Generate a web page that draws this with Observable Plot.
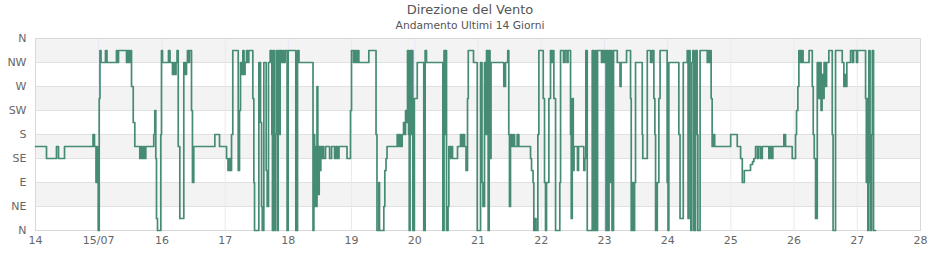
<!DOCTYPE html>
<html><head><meta charset="utf-8">
<script src="https://cdn.jsdelivr.net/npm/d3@7"></script>
<script src="https://cdn.jsdelivr.net/npm/@observablehq/plot@0.6"></script>
<style>
body{margin:0;background:#fff;font-family:"DejaVu Sans",sans-serif;}
#title{position:absolute;left:0;top:2px;width:940px;text-align:center;font-size:13px;line-height:15px;color:#555;}
#subtitle{position:absolute;left:0;top:19px;width:940px;text-align:center;font-size:10.7px;line-height:13px;color:#555;}
#chart{position:absolute;left:0;top:32px;}
</style></head><body>
<div id="title">Direzione del Vento</div>
<div id="subtitle">Andamento Ultimi 14 Giorni</div>
<div id="chart"></div>
<script>
const dayTicks = [14,15,16,17,18,19,20,21,22,23,24,25,26,27,28];
const dayLabels = ["14","15/07","16","17","18","19","20","21","22","23","24","25","26","27","28"];
const dirTicks = [0,45,90,135,180,225,270,315,360];
const dirLabels = ["N","NE","E","SE","S","SW","W","NW","N"];

// time (day of July, decimal) where the direction changes
const tDay = [
14.000,14.174,14.332,14.364,14.459,14.910,14.933,14.957,14.970,14.981,14.992,
15.008,15.020,15.036,15.107,15.131,15.281,15.297,15.313,15.440,15.456,15.479,15.503,15.519,15.546,15.571,15.650,15.666,15.685,15.704,15.724,15.745,15.871,15.887,15.903,15.914,15.930,15.982,15.993,
16.009,16.104,16.128,16.167,16.191,16.207,16.223,16.239,16.258,16.283,16.346,16.373,16.389,16.404,16.420,16.436,16.468,16.483,16.504,16.837,16.911,
17.022,17.045,17.069,17.085,17.101,17.121,17.207,17.227,17.243,17.259,17.280,17.299,17.315,17.338,17.354,17.374,17.438,17.454,17.465,17.533,17.560,17.576,17.587,17.612,17.649,17.665,17.686,17.712,17.739,17.748,17.759,17.775,17.791,17.807,17.823,17.839,17.855,17.870,17.894,17.910,17.926,17.949,17.980,17.997,
18.118,18.145,18.168,18.390,18.404,18.415,18.431,18.444,18.453,18.466,18.477,18.488,18.501,18.514,18.525,18.536,18.557,18.588,18.652,18.684,18.731,18.754,18.778,18.801,18.928,18.983,18.999,
19.031,19.047,19.070,19.094,19.115,19.273,19.387,19.402,19.431,19.442,19.510,19.526,19.545,19.561,19.722,19.743,19.759,19.774,19.801,19.822,19.838,19.854,19.877,19.885,19.901,19.912,19.925,19.941,19.953,19.969,19.993,
20.039,20.142,20.164,20.185,20.444,20.463,20.479,20.491,20.502,20.526,20.539,20.565,20.581,20.597,20.676,20.724,20.748,20.763,20.787,20.811,20.834,20.846,20.929,20.988,
21.040,21.063,21.079,21.103,21.119,21.135,21.161,21.177,21.190,21.206,21.408,21.435,21.471,21.487,21.498,21.514,21.538,21.562,21.578,21.620,21.646,21.831,21.847,21.871,21.883,21.902,21.918,21.947,21.963,
22.032,22.052,22.068,22.084,22.121,22.147,22.171,22.187,22.200,22.227,22.294,22.306,22.353,22.377,22.408,22.424,22.464,22.475,22.491,22.507,22.519,22.574,22.590,22.674,22.690,22.706,22.728,22.807,22.828,22.851,22.867,22.891,22.954,22.970,22.994,
23.010,23.025,23.041,23.057,23.073,23.089,23.105,23.120,23.144,23.203,23.247,23.263,23.350,23.413,23.424,23.445,23.461,23.477,23.492,23.598,23.607,23.678,23.730,23.754,23.782,23.798,23.809,23.836,23.861,23.880,23.992,
24.006,24.019,24.177,24.196,24.247,24.310,24.323,24.339,24.355,24.367,24.383,24.399,24.415,24.442,24.466,24.478,24.513,24.627,24.643,24.659,24.680,24.688,24.704,24.720,24.744,24.997,
25.101,25.154,25.181,25.213,25.311,25.343,25.364,25.391,25.422,25.438,25.470,25.497,25.601,25.617,25.644,25.664,25.838,25.865,25.971,26.023,26.039,26.060,
26.076,26.103,26.126,26.142,26.237,26.288,26.303,26.319,26.340,26.367,26.392,26.408,26.427,26.443,26.459,26.475,26.498,26.514,26.550,26.604,26.617,26.656,26.762,26.788,26.803,26.819,26.835,26.894,26.925,26.941,26.988,27.004,
27.131,27.143,27.155,27.167,27.183,27.202,27.215,27.226,27.238,27.257,27.289
];
// wind direction in degrees
const dirDeg = [
157.5,135,157.5,135,157.5,180,157.5,90,157.5,90,0,
247.5,337.5,315,337.5,315,337.5,315,337.5,315,337.5,315,337.5,270,202.5,157.5,135,157.5,135,157.5,135,157.5,180,225,135,22.5,0,180,337.5,
315,337.5,315,292.5,315,292.5,315,337.5,157.5,22.5,315,292.5,315,337.5,315,337.5,225,90,157.5,180,157.5,
135,112.5,135,112.5,180,337.5,112.5,225,315,292.5,337.5,292.5,315,337.5,315,337.5,247.5,90,0,315,202.5,45,0,315,112.5,45,315,337.5,180,0,337.5,0,180,337.5,0,337.5,180,337.5,315,337.5,315,337.5,0,337.5,
0,337.5,315,0,180,45,157.5,45,270,135,67.5,157.5,112.5,157.5,135,157.5,135,157.5,135,157.5,135,157.5,135,157.5,135,225,337.5,
315,337.5,315,337.5,315,337.5,180,0,90,0,45,112.5,135,157.5,180,157.5,180,157.5,180,202.5,180,225,202.5,337.5,180,0,337.5,180,337.5,0,247.5,
315,0,337.5,315,0,337.5,180,337.5,0,45,157.5,135,157.5,135,157.5,180,157.5,180,157.5,112.5,247.5,337.5,315,0,
315,90,45,315,180,337.5,0,337.5,135,315,270,315,337.5,180,45,180,157.5,180,157.5,180,157.5,135,112.5,90,0,22.5,0,180,337.5,
247.5,90,0,90,247.5,337.5,315,337.5,247.5,0,90,337.5,315,337.5,315,337.5,180,22.5,247.5,112.5,157.5,112.5,157.5,112.5,135,337.5,0,337.5,0,337.5,0,337.5,315,337.5,315,
337.5,0,337.5,0,337.5,90,337.5,0,337.5,315,270,315,337.5,247.5,0,90,0,90,315,180,135,337.5,315,337.5,247.5,180,0,90,247.5,337.5,90,
0,315,180,22.5,315,337.5,22.5,337.5,180,0,315,337.5,0,337.5,180,0,337.5,315,337.5,315,337.5,247.5,157.5,180,157.5,180,
157.5,135,90,112.5,123.75,129,135,157.5,135,157.5,135,157.5,135,157.5,135,157.5,180,157.5,135,180,225,270,
337.5,315,337.5,315,337.5,270,180,135,22.5,315,247.5,315,225,292.5,247.5,315,270,315,337.5,180,0,337.5,315,270,292.5,270,315,337.5,315,337.5,315,337.5,
247.5,90,247.5,0,337.5,90,0,180,337.5,0,0
];

const data = tDay.map((t, i) => ({t, d: dirDeg[i]}));
const bands = dirTicks.slice(0, -1).map((lo, i) => ({lo, hi: dirTicks[i + 1], grey: i % 2 === 1}));
const fmtX = d => dayLabels[dayTicks.indexOf(d)];
const fmtY = d => dirLabels[dirTicks.indexOf(d)];

const chart = Plot.plot({
  width: 940,
  height: 228,
  marginTop: 6,
  marginBottom: 30,
  marginLeft: 35,
  marginRight: 20,
  style: {fontFamily: "'DejaVu Sans', sans-serif", fontSize: "11px", color: "#666", background: "#fff"},
  x: {domain: [dayTicks[0], dayTicks[dayTicks.length - 1]]},
  y: {domain: [dirTicks[0], dirTicks[dirTicks.length - 1]]},
  marks: [
    Plot.rect(bands.filter(b => b.grey), {y1: "lo", y2: "hi", fill: "#f3f3f3"}),
    Plot.gridY(dirTicks, {stroke: "#e0e0e0", strokeOpacity: 1}),
    Plot.gridX(dayTicks, {stroke: "#e8e8f6", strokeOpacity: 1}),
    Plot.frame({stroke: "#d8d8d8"}),
    Plot.line(data, {x: "t", y: "d", curve: "step-after", stroke: "#468b74", strokeWidth: 1.7}),
    Plot.axisY(dirTicks, {tickSize: 0, tickPadding: 9, tickFormat: fmtY, label: null}),
    Plot.axisX(dayTicks, {tickSize: 0, tickPadding: 6, tickFormat: fmtX, label: null})
  ]
});
document.getElementById("chart").appendChild(chart);
</script>
</body></html>
